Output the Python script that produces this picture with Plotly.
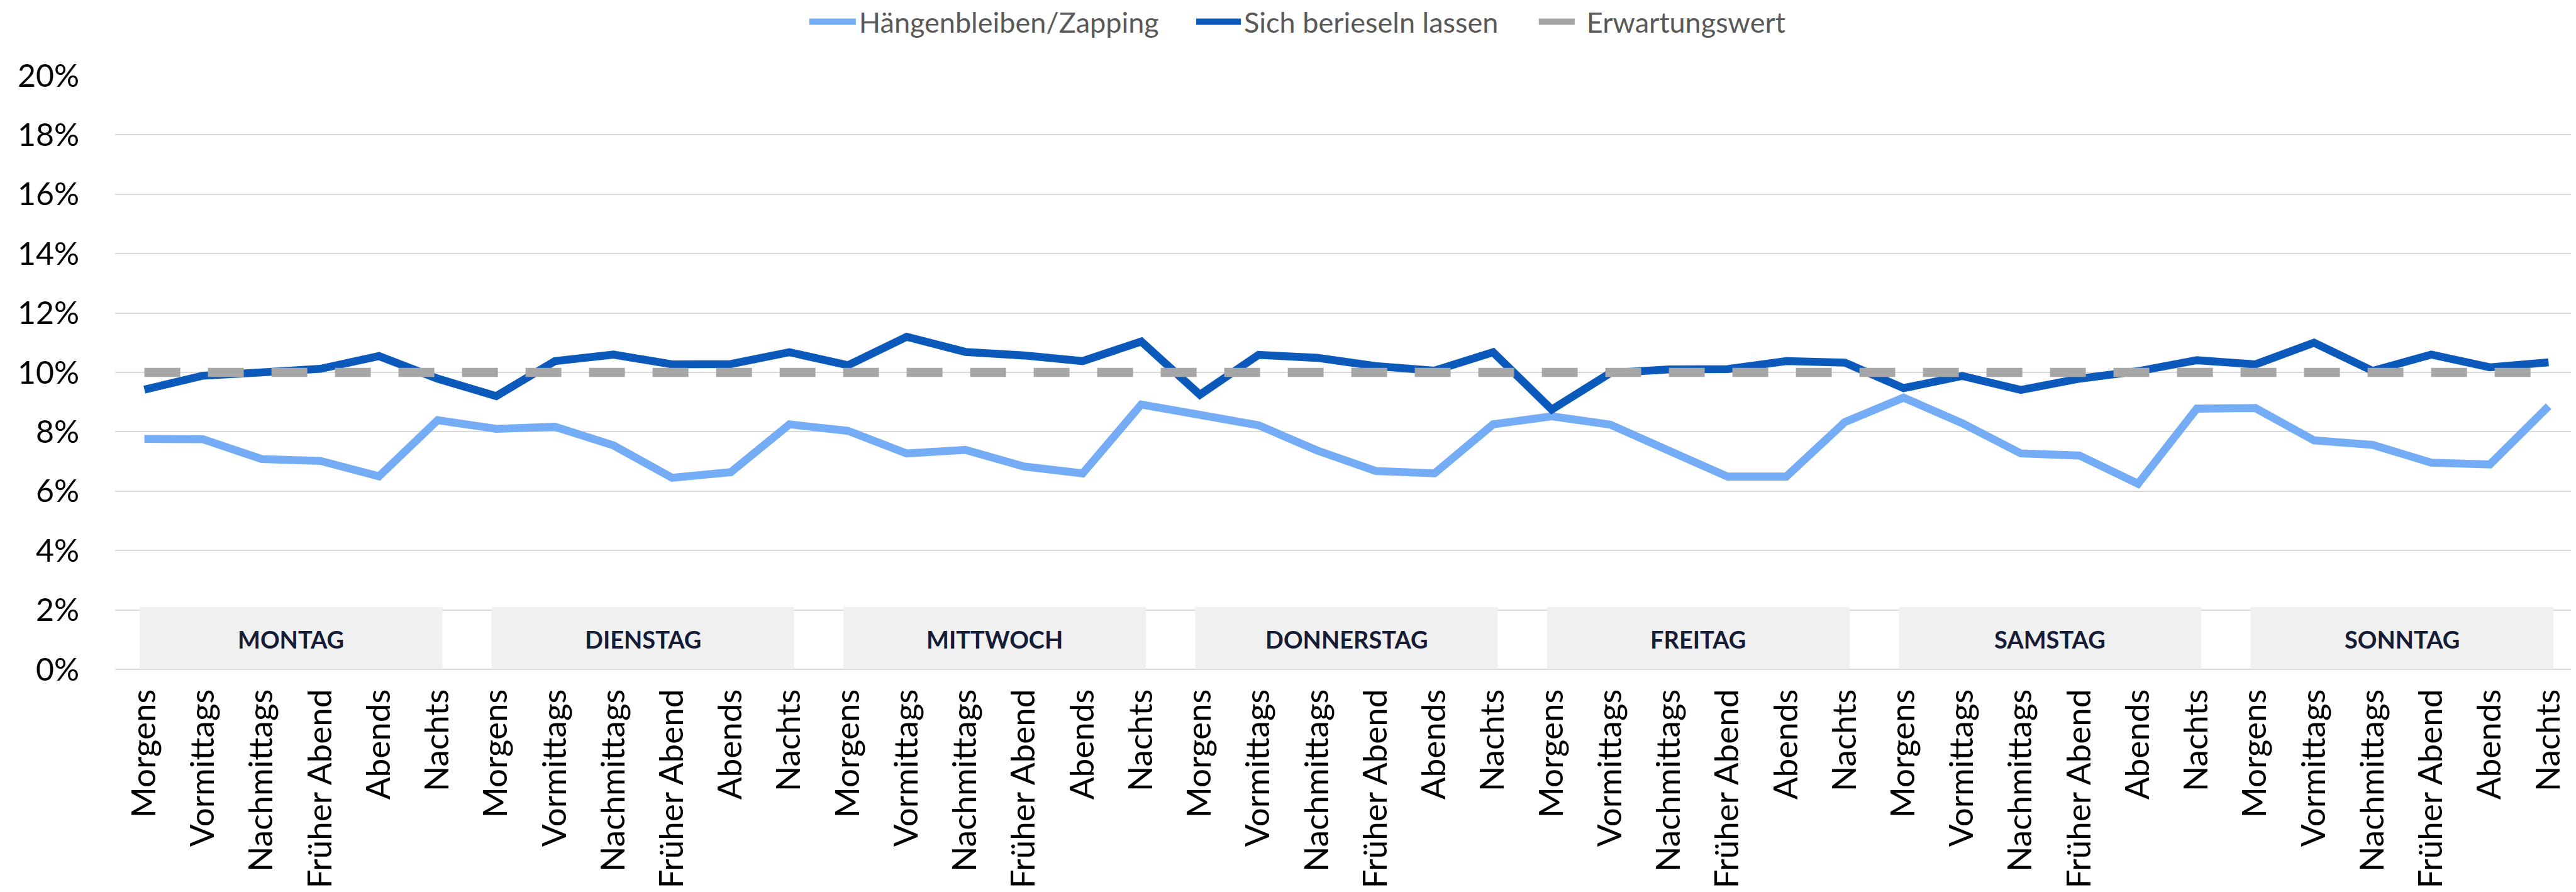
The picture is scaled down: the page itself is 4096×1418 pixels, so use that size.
import plotly.graph_objects as go

days = ["MONTAG", "DIENSTAG", "MITTWOCH", "DONNERSTAG", "FREITAG", "SAMSTAG", "SONNTAG"]
dayparts = ["Morgens", "Vormittags", "Nachmittags", "Früher Abend", "Abends", "Nachts"]

# values in percent
zapping = [7.76, 7.75, 7.08, 7.02, 6.50, 8.39,
           8.10, 8.17, 7.54, 6.45, 6.64, 8.25,
           8.03, 7.27, 7.39, 6.83, 6.60, 8.92,
           8.57, 8.22, 7.37, 6.68, 6.60, 8.25,
           8.52, 8.24, 7.36, 6.49, 6.49, 8.33,
           9.15, 8.29, 7.27, 7.20, 6.25, 8.78,
           8.80, 7.71, 7.56, 6.96, 6.90, 8.86]
berieseln = [9.42, 9.89, 10.00, 10.12, 10.55, 9.79,
             9.20, 10.38, 10.60, 10.27, 10.28, 10.68,
             10.24, 11.20, 10.69, 10.57, 10.38, 11.04,
             9.25, 10.59, 10.49, 10.21, 10.06, 10.68,
             8.75, 9.98, 10.10, 10.11, 10.38, 10.33,
             9.47, 9.88, 9.41, 9.79, 10.04, 10.41,
             10.27, 11.00, 10.05, 10.60, 10.17, 10.34]
erwartung = [10.0] * 42

series_names = ["Hängenbleiben/Zapping", "Sich berieseln lassen", "Erwartungswert"]
tick_labels = dayparts * len(days)
x = list(range(len(tick_labels)))

FONT = "Lato, 'Open Sans', sans-serif"

fig = go.Figure()
fig.add_trace(go.Scatter(x=x, y=[v / 100 for v in zapping], mode="lines",
                         name=series_names[0], legend="legend",
                         line=dict(color="#74ADF5", width=12.6)))
fig.add_trace(go.Scatter(x=x, y=[v / 100 for v in berieseln], mode="lines",
                         name=series_names[1], legend="legend2",
                         line=dict(color="#0B59BB", width=12.6)))
fig.add_trace(go.Scatter(x=x, y=[v / 100 for v in erwartung], mode="lines",
                         name=series_names[2], legend="legend3",
                         line=dict(color="#A6A6A6", width=14.4, dash="57px,44px")))

shapes = []
annotations = []
for d, day in enumerate(days):
    shapes.append(dict(type="rect", xref="x", yref="y", x0=6 * d - 0.08, x1=6 * d + 5.08,
                       y0=0, y1=0.021, fillcolor="#F0F0F0", line=dict(width=0),
                       layer="between"))
    annotations.append(dict(x=6 * d + 2.5, y=0.0102, xref="x", yref="y", text=day,
                            showarrow=False, xanchor="center", yanchor="middle",
                            font=dict(family=FONT, size=38, color="#161B36", weight="bold")))


def legend_cfg(xpos, iw):
    return dict(orientation="h", xref="container", yref="container",
                x=xpos, xanchor="left", y=0.9812, yanchor="middle",
                font=dict(family=FONT, size=45, color="#595959"),
                itemwidth=iw, bgcolor="rgba(0,0,0,0)", borderwidth=0)


fig.update_layout(
    width=4096, height=1418,
    margin=dict(l=175, r=5, t=112, b=362, pad=0),
    paper_bgcolor="white", plot_bgcolor="white",
    font=dict(family=FONT, color="#000000"),
    shapes=shapes, annotations=annotations,
    showlegend=True,
    legend=legend_cfg(0.3110, 74),
    legend2=legend_cfg(0.4612, 71),
    legend3=legend_cfg(0.5942, 71),
    xaxis=dict(range=[-0.5, 41.5], tickmode="array", tickvals=x, ticktext=tick_labels,
               tickangle=-90, showgrid=False, zeroline=False, showline=False,
               ticks="", tickfont=dict(family=FONT, size=53, color="#000000"),
               ticklabelstandoff=20),
    yaxis=dict(range=[0, 0.2], dtick=0.02, tick0=0, tickformat=".0%",
               showgrid=True, gridcolor="#D9D9D9", gridwidth=2,
               zeroline=True, zerolinecolor="#D9D9D9", zerolinewidth=2,
               showline=False, ticks="",
               tickfont=dict(family=FONT, size=50, color="#000000"),
               ticklabelstandoff=56),
)

fig.write_html("out.html")
